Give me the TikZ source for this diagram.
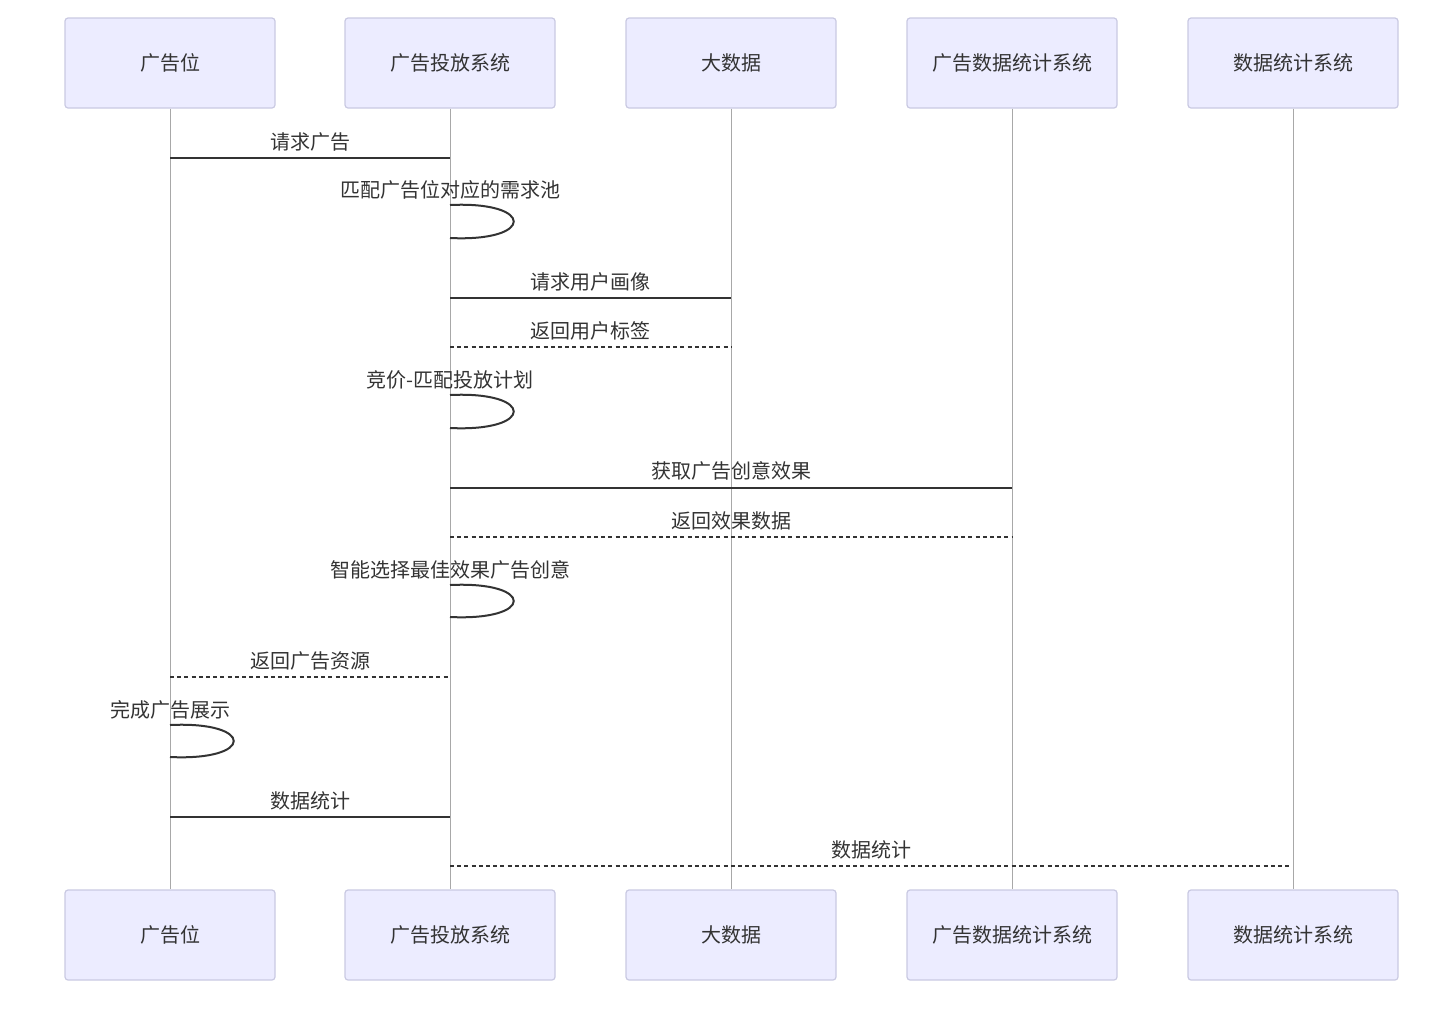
\documentclass[tikz,border=0pt]{standalone}
\usepackage{fontspec}
\setmainfont{Noto Sans CJK SC}
\usetikzlibrary{positioning,calc}
\definecolor{actorfill}{HTML}{ECECFF}
\definecolor{actorline}{HTML}{C9C9E2}
\definecolor{lifeline}{HTML}{A8A8A8}
\definecolor{txt}{HTML}{333333}

\begin{document}
\begin{tikzpicture}[x=0.5pt, y=-0.5pt,
    actor/.style={draw=actorline, line width=0.6pt, rounded corners=1.5pt, fill=actorfill, minimum width=105pt, minimum height=45pt, font=\fontsize{10}{12}\selectfont, text=txt},
    life/.style={draw=lifeline, line width=0.5pt},
    msg/.style={draw=txt, line width=1pt},
    reply/.style={msg, dash pattern=on 2pt off 1.6pt},
    lbl/.style={font=\fontsize{10}{12}\selectfont, text=txt, inner sep=1pt}
]
\useasboundingbox (0,0) rectangle (1440,1009);

% Participants (top)
\node[actor] (ggw) at (170,63) {广告位};
\node[actor] (tf) at (450,63) {广告投放系统};
\node[actor] (dsj) at (731,63) {大数据};
\node[actor] (ggtj) at (1012,63) {广告数据统计系统};
\node[actor] (sjtj) at (1293,63) {数据统计系统};

% Participants (bottom)
\node[actor] (ggw-b) at (170,935) {广告位};
\node[actor] (tf-b) at (450,935) {广告投放系统};
\node[actor] (dsj-b) at (731,935) {大数据};
\node[actor] (ggtj-b) at (1012,935) {广告数据统计系统};
\node[actor] (sjtj-b) at (1293,935) {数据统计系统};

% Lifelines
\draw[life] (ggw) -- (ggw-b);
\draw[life] (tf) -- (tf-b);
\draw[life] (dsj) -- (dsj-b);
\draw[life] (ggtj) -- (ggtj-b);
\draw[life] (sjtj) -- (sjtj-b);

% Message rows
\coordinate (r1) at (0,158);
\coordinate (r2) at (0,205);
\coordinate (r2e) at (0,238);
\coordinate (r3) at (0,298);
\coordinate (r4) at (0,347);
\coordinate (r5) at (0,395);
\coordinate (r5e) at (0,428);
\coordinate (r6) at (0,488);
\coordinate (r7) at (0,537);
\coordinate (r8) at (0,585);
\coordinate (r8e) at (0,617);
\coordinate (r9) at (0,677);
\coordinate (r10) at (0,725);
\coordinate (r10e) at (0,757);
\coordinate (r11) at (0,817);
\coordinate (r12) at (0,866);

% Messages
\node[lbl] (m1) at (310,142) {请求广告};
\draw[msg] (ggw |- r1) -- (tf |- r1);

\node[lbl] (m2) at (450,190) {匹配广告位对应的需求池};
\draw[msg] (tf |- r2) .. controls +(85,-4) and +(85,4) .. (tf |- r2e);

\node[lbl] (m3) at (590,282) {请求用户画像};
\draw[msg] (tf |- r3) -- (dsj |- r3);

\node[lbl] (m4) at (590,331) {返回用户标签};
\draw[reply] (tf |- r4) -- (dsj |- r4);

\node[lbl] (m5) at (450,380) {竞价-匹配投放计划};
\draw[msg] (tf |- r5) .. controls +(85,-4) and +(85,4) .. (tf |- r5e);

\node[lbl] (m6) at (731,471) {获取广告创意效果};
\draw[msg] (tf |- r6) -- (ggtj |- r6);

\node[lbl] (m7) at (731,521) {返回效果数据};
\draw[reply] (tf |- r7) -- (ggtj |- r7);

\node[lbl] (m8) at (450,570) {智能选择最佳效果广告创意};
\draw[msg] (tf |- r8) .. controls +(85,-4) and +(85,4) .. (tf |- r8e);

\node[lbl] (m9) at (310,661) {返回广告资源};
\draw[reply] (ggw |- r9) -- (tf |- r9);

\node[lbl] (m10) at (170,710) {完成广告展示};
\draw[msg] (ggw |- r10) .. controls +(85,-4) and +(85,4) .. (ggw |- r10e);

\node[lbl] (m11) at (310,801) {数据统计};
\draw[msg] (ggw |- r11) -- (tf |- r11);

\node[lbl] (m12) at (871,850) {数据统计};
\draw[reply] (tf |- r12) -- ([xshift=-1.5pt]sjtj |- r12);
\end{tikzpicture}
\end{document}
